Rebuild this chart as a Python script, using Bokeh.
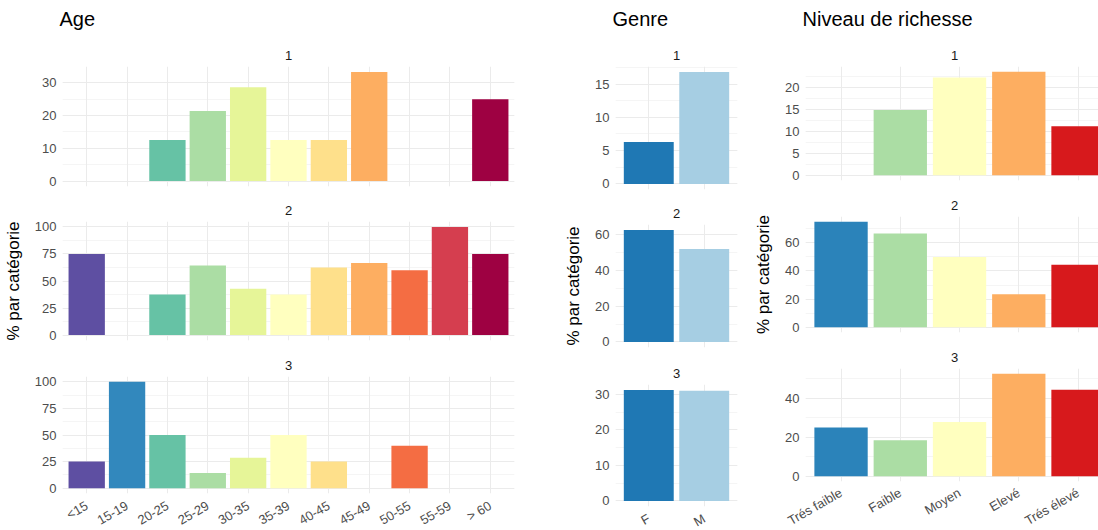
import math
from bokeh.plotting import figure
from bokeh.models import Range1d, SingleIntervalTicker, FixedTicker, Title, ColumnDataSource
from bokeh.layouts import row, column
from bokeh.embed import file_html
from bokeh.resources import INLINE

FONT = "Liberation Sans"

# ---------------- data ----------------
age_categories = ["<15", "15-19", "20-25", "25-29", "30-35", "35-39",
                  "40-45", "45-49", "50-55", "55-59", "> 60"]
age_cluster1 = [0, 0, 12.5, 21.4, 28.6, 12.5, 12.5, 33.3, 0, 0, 25.0]
age_cluster2 = [75.0, 0, 37.5, 64.3, 42.9, 37.5, 62.5, 66.7, 60.0, 100.0, 75.0]
age_cluster3 = [25.0, 100.0, 50.0, 14.3, 28.6, 50.0, 25.0, 0, 40.0, 0, 0]
age_colors = ["#5E4FA2", "#3288BD", "#66C2A5", "#ABDDA4", "#E6F598", "#FFFFBF",
              "#FEE08B", "#FDAE61", "#F46D43", "#D53E4F", "#9E0142"]

genre_categories = ["F", "M"]
genre_cluster1 = [6.3, 16.8]
genre_cluster2 = [62.5, 52.0]
genre_cluster3 = [31.2, 31.0]
genre_colors = ["#1F78B4", "#A6CEE3"]

wealth_categories = ["Trés faible", "Faible", "Moyen", "Elevé", "Trés élevé"]
wealth_cluster1 = [0, 14.8, 22.2, 23.5, 11.1]
wealth_cluster2 = [75.0, 66.7, 50.0, 23.5, 44.4]
wealth_cluster3 = [25.0, 18.5, 27.8, 52.6, 44.4]
wealth_colors = ["#2B83BA", "#ABDDA4", "#FFFFBF", "#FDAE61", "#D7191C"]

cluster_labels = ["1", "2", "3"]
headers = ["Age", "Genre", "Niveau de richesse"]
y_label = "% par catégorie"


def header_fig(text, fw, left, right, height):
    p = figure(frame_width=fw, height=height, x_range=Range1d(0, 1), y_range=Range1d(0, 1),
               min_border_left=left, min_border_right=right,
               min_border_top=0, min_border_bottom=0,
               toolbar_location=None, output_backend="svg", title=None)
    p.axis.visible = False
    p.grid.visible = False
    p.outline_line_color = None
    p.background_fill_color = "white"
    p.border_fill_color = "white"
    p.add_layout(Title(text=text, align="left", text_font=FONT,
                       text_font_size="20px", text_font_style="normal",
                       text_color="black", standoff=10, offset=-3), "above")
    return p


def panel(cats, vals, colors, interval, fw, fh, left, right, top, bottom,
          strip, ylabel=None, xlabels=False, x_end=None, xstandoff=11):
    n = len(cats)
    idx = list(range(n))
    ymax = max(vals)
    pad = 0.05 * ymax
    xr = Range1d(-0.6, (n - 1 + 0.6) if x_end is None else x_end)
    yr = Range1d(-pad, ymax + pad)
    p = figure(x_range=xr, y_range=yr, frame_width=fw, frame_height=fh,
               min_border_left=left, min_border_right=right,
               min_border_top=top, min_border_bottom=bottom,
               toolbar_location=None, output_backend="svg", title=None)
    p.background_fill_color = "white"
    p.border_fill_color = "white"
    p.outline_line_color = None

    src = ColumnDataSource(dict(x=idx, top=vals, color=colors))
    p.vbar(x="x", top="top", bottom=0, width=0.9, source=src,
           fill_color="color", line_color=None)

    xt = FixedTicker(ticks=idx)
    yt = SingleIntervalTicker(interval=interval, num_minor_ticks=2)
    p.xaxis.ticker = xt
    p.xgrid.ticker = xt
    p.yaxis.ticker = yt
    p.ygrid.ticker = yt

    p.xgrid.grid_line_color = "#EBEBEB"
    p.xgrid.grid_line_width = 1
    p.ygrid.grid_line_color = "#EBEBEB"
    p.ygrid.grid_line_width = 1
    p.ygrid.minor_grid_line_color = "#EBEBEB"
    p.ygrid.minor_grid_line_width = 0.5

    for ax in (p.xaxis[0], p.yaxis[0]):
        ax.axis_line_color = None
        ax.major_tick_line_color = None
        ax.minor_tick_line_color = None
        ax.major_tick_out = 0
        ax.minor_tick_out = 0
        ax.major_tick_in = 0
        ax.minor_tick_in = 0
        ax.major_label_text_font = FONT
        ax.major_label_text_font_size = "13px"
        ax.major_label_text_color = "#4D4D4D"

    p.yaxis.major_label_standoff = 6
    if ylabel:
        p.yaxis.axis_label = ylabel
        p.yaxis.axis_label_text_font = FONT
        p.yaxis.axis_label_text_font_size = "17px"
        p.yaxis.axis_label_text_font_style = "normal"
        p.yaxis.axis_label_text_color = "black"
        p.yaxis.axis_label_standoff = 9

    if xlabels:
        p.xaxis.major_label_overrides = {i: c for i, c in zip(idx, cats)}
        p.xaxis.major_label_orientation = math.radians(30)
        p.xaxis.major_label_standoff = xstandoff
    else:
        p.xaxis.visible = False

    p.add_layout(Title(text=strip, align="center", text_font=FONT,
                       text_font_size="13px", text_font_style="normal",
                       text_color="#1A1A1A", standoff=14), "above")
    return p


HEAD_H = 36

# Age column
ha = header_fig(headers[0], 452, 61, 45, HEAD_H)
a1 = panel(age_categories, age_cluster1, age_colors, 10, 452, 120, 61, 45, 30, 4,
           cluster_labels[0])
a2 = panel(age_categories, age_cluster2, age_colors, 25, 452, 119, 61, 45, 31, 4,
           cluster_labels[1], ylabel=y_label)
a3 = panel(age_categories, age_cluster3, age_colors, 25, 452, 117, 61, 45, 32, 36,
           cluster_labels[2], xlabels=True, xstandoff=11)

# Genre column
hg = header_fig(headers[1], 122, 56, 14, HEAD_H)
g1 = panel(genre_categories, genre_cluster1, genre_colors, 5, 122, 123, 56, 14, 30, 4,
           cluster_labels[0])
g2 = panel(genre_categories, genre_cluster2, genre_colors, 20, 122, 123, 56, 14, 31, 4,
           cluster_labels[1], ylabel=y_label)
g3 = panel(genre_categories, genre_cluster3, genre_colors, 10, 122, 122, 56, 14, 33, 23,
           cluster_labels[2], xlabels=True, xstandoff=11)

# Wealth column (right edge clipped like the reference)
w_end = 4.43
hw = header_fig(headers[2], 298, 50, 0, HEAD_H)
w1 = panel(wealth_categories, wealth_cluster1, wealth_colors, 5, 298, 114, 50, 0, 30, 4,
           cluster_labels[0], x_end=w_end)
w2 = panel(wealth_categories, wealth_cluster2, wealth_colors, 20, 298, 116, 50, 0, 32, 4,
           cluster_labels[1], ylabel=y_label, x_end=w_end)
w3 = panel(wealth_categories, wealth_cluster3, wealth_colors, 20, 298, 113, 50, 0, 32, 47,
           cluster_labels[2], xlabels=True, x_end=w_end, xstandoff=10)

layout = row(column(ha, a1, a2, a3), column(hg, g1, g2, g3), column(hw, w1, w2, w3))

open("out.html", "w").write(file_html(layout, INLINE))
